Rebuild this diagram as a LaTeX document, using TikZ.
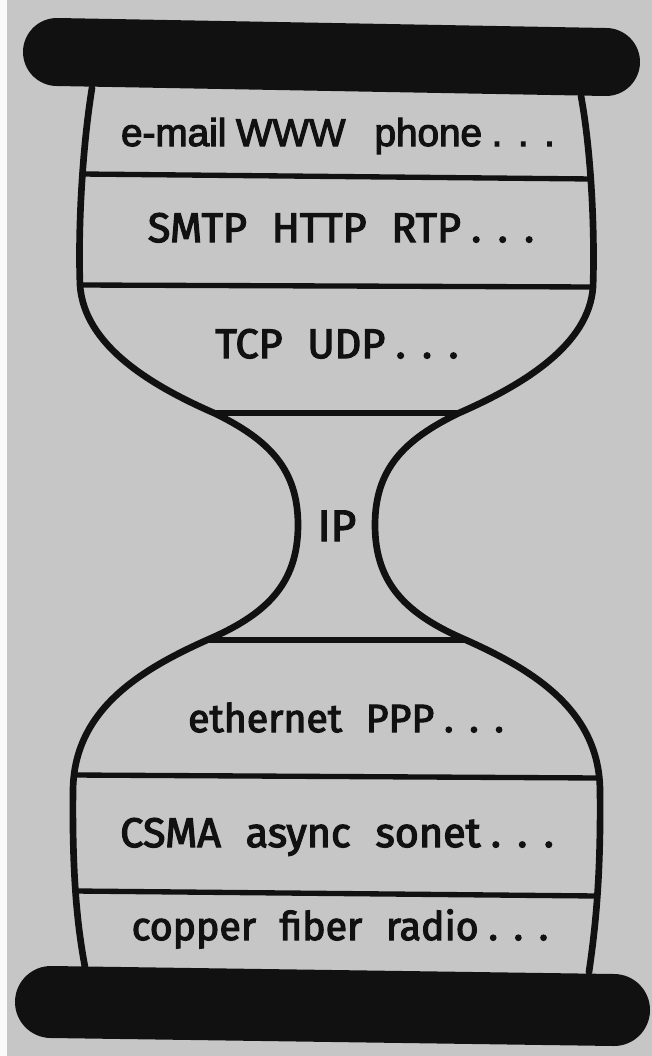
\documentclass[tikz,border=0pt]{standalone}
\usepackage{fontspec}
\newfontfamily\layerfont[FakeBold=3]{Fira Sans}
\newfontfamily\appfont[FakeBold=3]{Liberation Sans}
\definecolor{paper}{HTML}{C6C6C6}
\definecolor{ink}{HTML}{111111}
\newcommand\wgap{\hspace{.6em}}
\newcommand\trail{\hspace{.25em}.\hspace{.4em}.\hspace{.4em}.}
\begin{document}
\begin{tikzpicture}[x=0.75pt,y=-0.75pt,
  outline/.style={draw=ink,line width=5pt,line cap=round,line join=round},
  divider/.style={draw=ink,line width=4pt},
  bar/.style={draw=ink,line cap=round},
  layer/.style={anchor=base,inner sep=0pt,text=ink,font=\layerfont\fontsize{31}{33}\selectfont},
  lower/.style={font=\layerfont\fontsize{29.5}{31}\selectfont}]
  % page
  \useasboundingbox (0,0) rectangle (652,1056);
  \fill[paper] (0,0) rectangle (652,1056);
  \fill[white!92!paper] (0,0) rectangle (7,1056);

  % the two waists of the hourglass
  \draw[outline] (92,88) .. controls (82,150) and (78,230) .. (80,285)
    .. controls (84,345) and (150,385) .. (214,413)
    .. controls (270,440) and (298,470) .. (298,525)
    .. controls (298,585) and (265,615) .. (207,640)
    .. controls (140,670) and (74,710) .. (73,790)
    .. controls (72,880) and (78,930) .. (85,967);
  \draw[outline] (581,96) .. controls (591,150) and (595,230) .. (593,287)
    .. controls (589,345) and (523,385) .. (459,413)
    .. controls (403,440) and (375,470) .. (375,525)
    .. controls (375,585) and (408,615) .. (466,640)
    .. controls (533,670) and (599,710) .. (600,790)
    .. controls (601,880) and (595,930) .. (589,972);

  % layer boundaries
  \draw[divider] (82,174) -- (592,179);
  \draw[divider] (80,285) -- (593,287);
  \draw[divider] (214,413) -- (459,413);
  \draw[divider] (207,640) -- (466,640);
  \draw[divider] (74,775) -- (599,778);
  \draw[divider] (76,891) -- (597,896);

  % caps
  \draw[bar,line width=51pt] (57,52) -- (606,62);
  \draw[bar,line width=54pt] (51,1002) -- (614,1010);

  % layer labels
  \node[layer,font=\appfont\fontsize{29}{31}\selectfont] (apps) at (338,146)
    {e-mail\hspace{.25em}WWW\hspace{.75em}phone\trail};
  \node[layer] (appproto) at (341,242) {SMTP\wgap HTTP\wgap RTP\trail};
  \node[layer] (transport) at (337,358) {TCP\wgap UDP\trail};
  \node[layer,font=\layerfont\fontsize{33}{35}\selectfont] (ip) at (337,541) {IP};
  \node[layer,lower] (link) at (346,732) {ethernet\wgap PPP\trail};
  \node[layer] (mac) at (337,847) {CSMA\wgap async\wgap sonet\trail};
  \node[layer,lower] (phys) at (340,940) {copper\wgap fiber\wgap radio\trail};
\end{tikzpicture}
\end{document}
